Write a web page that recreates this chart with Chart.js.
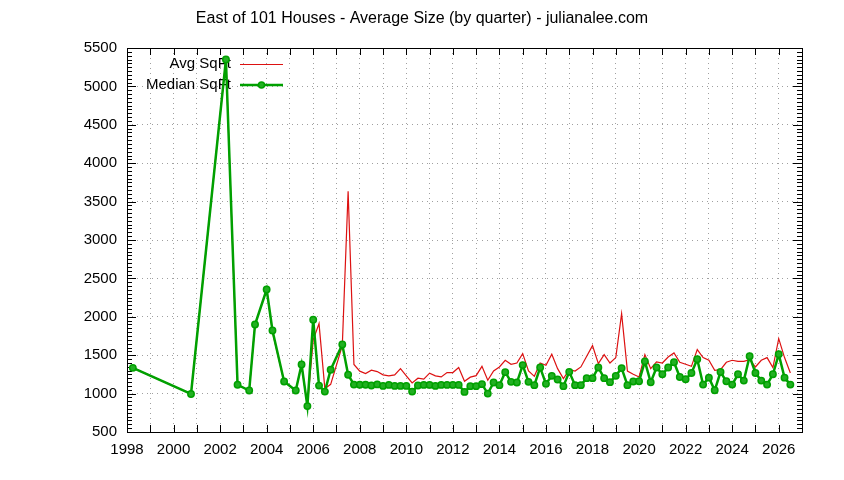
<!DOCTYPE html>
<html>
<head>
<meta charset="utf-8">
<title>East of 101 Houses - Average Size</title>
<script src="https://cdn.jsdelivr.net/npm/chart.js@4.4.1/dist/chart.umd.min.js"></script>
<style>
  html, body { margin: 0; padding: 0; background: #fff; }
  #wrap { width: 844px; height: 480px; position: relative; }
</style>
</head>
<body>
<div id="wrap"><canvas id="sizeChart"></canvas></div>
<script>
// --- data (x = year + quarter fraction) ---
const quarters = [
  1998.25, 2000.75, 2002.25, 2002.75, 2003.25, 2003.5, 2004.0, 2004.25, 2004.75,
  2005.25, 2005.5, 2005.75, 2006.0, 2006.25, 2006.5, 2006.75, 2007.25, 2007.5, 2007.75,
  2008.0, 2008.25, 2008.5, 2008.75, 2009.0, 2009.25, 2009.5, 2009.75,
  2010.0, 2010.25, 2010.5, 2010.75, 2011.0, 2011.25, 2011.5, 2011.75,
  2012.0, 2012.25, 2012.5, 2012.75, 2013.0, 2013.25, 2013.5, 2013.75,
  2014.0, 2014.25, 2014.5, 2014.75, 2015.0, 2015.25, 2015.5, 2015.75,
  2016.0, 2016.25, 2016.5, 2016.75, 2017.0, 2017.25, 2017.5, 2017.75,
  2018.0, 2018.25, 2018.5, 2018.75, 2019.0, 2019.25, 2019.5, 2019.75,
  2020.0, 2020.25, 2020.5, 2020.75, 2021.0, 2021.25, 2021.5, 2021.75,
  2022.0, 2022.25, 2022.5, 2022.75, 2023.0, 2023.25, 2023.5, 2023.75,
  2024.0, 2024.25, 2024.5, 2024.75, 2025.0, 2025.25, 2025.5, 2025.75,
  2026.0, 2026.25, 2026.5
];

const avgSqft = [
  1335, 995, 5350, 1115, 1040, 1900, 2355, 1800, 1157,
  1040, 1378, 837, 1700, 1911, 1065, 1121, 1625, 3636, 1380,
  1292, 1261, 1305, 1287, 1244, 1231, 1244, 1326,
  1231, 1140, 1200, 1188, 1266, 1231, 1218, 1274,
  1274, 1340, 1160, 1214, 1234, 1355, 1173, 1294,
  1347, 1434, 1382, 1398, 1521, 1294, 1225, 1398,
  1368, 1512, 1325, 1195, 1312, 1294, 1347, 1486,
  1625, 1391, 1508, 1398, 1469, 2042, 1294, 1251,
  1216, 1508, 1325, 1412, 1398, 1477, 1529, 1408,
  1382, 1355, 1573, 1469, 1434, 1303, 1312, 1408,
  1434, 1420, 1420, 1443, 1347, 1434, 1469, 1339,
  1716, 1469, 1268
];

const medianSqft = [
  1335, 995, 5350, 1115, 1040, 1900, 2355, 1822, 1157,
  1040, 1378, 837, 1962, 1104, 1026, 1311, 1640, 1246, 1117,
  1115, 1115, 1105, 1120, 1100, 1113, 1100, 1100,
  1100, 1026, 1105, 1113, 1113, 1100, 1113, 1113,
  1113, 1113, 1022, 1097, 1097, 1123, 1000, 1144,
  1110, 1279, 1153, 1144, 1371, 1153, 1110, 1340,
  1127, 1231, 1183, 1097, 1283, 1110, 1110, 1201,
  1201, 1340, 1201, 1149, 1231, 1332, 1110, 1157,
  1160, 1420, 1147, 1339, 1251, 1339, 1408, 1216,
  1186, 1268, 1447, 1117, 1208, 1043, 1281, 1160,
  1117, 1251, 1169, 1486, 1268, 1169, 1117, 1251,
  1512, 1208, 1117
];

const yearTicks = [1998, 2000, 2002, 2004, 2006, 2008, 2010, 2012, 2014, 2016, 2018, 2020, 2022, 2024, 2026];
const seriesNames = ['Avg SqFt', 'Median SqFt'];
const chartTitle = 'East of 101 Houses - Average Size (by quarter) - julianalee.com';

const FONT = '"Liberation Sans", Arial, sans-serif';
const RED = '#dd1111';
const GREEN = '#00a000';

// gnuplot-ish frame: border on all sides, inward ticks, mirrored, legend + title
const framePlugin = {
  id: 'frame',
  beforeDatasetsDraw(chart) {
    const { ctx, chartArea: a, scales: { x, y } } = chart;
    ctx.save();
    ctx.strokeStyle = '#000';
    ctx.lineWidth = 1;
    ctx.beginPath();
    for (let yr = x.min; yr <= x.max; yr++) {
      const px = Math.round(x.getPixelForValue(yr)) + 0.5;
      ctx.moveTo(px, a.bottom); ctx.lineTo(px, a.bottom - 7);
      ctx.moveTo(px, a.top); ctx.lineTo(px, a.top + 7);
    }
    for (let v = y.min; v <= y.max; v += 50) {
      const py = Math.round(y.getPixelForValue(v)) + 0.5;
      const len = v % 500 === 0 ? 9 : 5;
      ctx.moveTo(a.left, py); ctx.lineTo(a.left + len, py);
      ctx.moveTo(a.right, py); ctx.lineTo(a.right - len, py);
    }
    ctx.stroke();
    ctx.strokeRect(Math.round(a.left) + 0.5, Math.round(a.top) + 0.5,
                   Math.round(a.right - a.left), Math.round(a.bottom - a.top));

    // legend (text right-aligned, sample line to the right)
    ctx.font = '15px ' + FONT;
    ctx.fillStyle = '#000';
    ctx.textAlign = 'right';
    ctx.textBaseline = 'middle';
    ctx.fillText(seriesNames[0], 231, 64);
    ctx.fillText(seriesNames[1], 231, 85);
    ctx.strokeStyle = RED;
    ctx.lineWidth = 1;
    ctx.beginPath(); ctx.moveTo(240, 64.5); ctx.lineTo(283, 64.5); ctx.stroke();
    ctx.strokeStyle = GREEN;
    ctx.lineWidth = 2.5;
    ctx.beginPath(); ctx.moveTo(240, 85); ctx.lineTo(283, 85); ctx.stroke();
    ctx.beginPath(); ctx.arc(261.5, 85, 3, 0, Math.PI * 2);
    ctx.fillStyle = '#22b022'; ctx.fill();
    ctx.lineWidth = 1.5; ctx.stroke();
    ctx.restore();
  },
  afterDraw(chart) {
    const { ctx } = chart;
    ctx.save();
    ctx.font = '16px ' + FONT;
    ctx.fillStyle = '#000';
    ctx.textAlign = 'center';
    ctx.textBaseline = 'middle';
    ctx.fillText(chartTitle, 422, 19);
    ctx.restore();
  }
};

const ctx = document.getElementById('sizeChart').getContext('2d');
const sizeChart = new Chart(ctx, {
  type: 'line',
  data: {
    datasets: [
      {
        label: seriesNames[1],
        data: quarters.map((q, i) => ({ x: q, y: medianSqft[i] })),
        borderColor: GREEN,
        borderWidth: 2.5,
        pointRadius: 3.2,
        pointBackgroundColor: '#22b022',
        pointBorderColor: GREEN,
        pointBorderWidth: 1.5,
        tension: 0,
        order: 0
      },
      {
        label: seriesNames[0],
        data: quarters.map((q, i) => ({ x: q, y: avgSqft[i] })),
        borderColor: RED,
        borderWidth: 1.2,
        pointRadius: 0,
        tension: 0,
        order: 1
      }
    ]
  },
  options: {
    responsive: true,
    maintainAspectRatio: false,
    animation: false,
    layout: { padding: { top: 48, right: 42, left: 0, bottom: 0 } },
    plugins: { legend: { display: false }, title: { display: false }, tooltip: { enabled: false } },
    scales: {
      x: {
        type: 'linear',
        min: 1998,
        max: 2027,
        afterFit: (s) => { s.height = 48; },
        afterBuildTicks: (s) => {
          const t = [];
          for (let yr = 1998; yr <= 2027; yr++) t.push({ value: yr });
          s.ticks = t;
        },
        ticks: {
          autoSkip: false,
          maxRotation: 0,
          padding: 9,
          color: '#000',
          font: { family: FONT, size: 15 },
          callback: (v) => (yearTicks.includes(v) ? String(v) : '')
        },
        grid: { color: '#a0a0a0', lineWidth: 1, drawTicks: false },
        border: { display: false, dash: [1, 4] }
      },
      y: {
        min: 500,
        max: 5500,
        afterFit: (s) => { s.width = 127; },
        ticks: {
          stepSize: 500,
          padding: 10,
          color: '#000',
          font: { family: FONT, size: 15 },
          callback: (v) => String(v)
        },
        grid: { color: '#a0a0a0', lineWidth: 1, drawTicks: false },
        border: { display: false, dash: [1, 4] }
      }
    }
  },
  plugins: [framePlugin]
});
</script>
</body>
</html>
